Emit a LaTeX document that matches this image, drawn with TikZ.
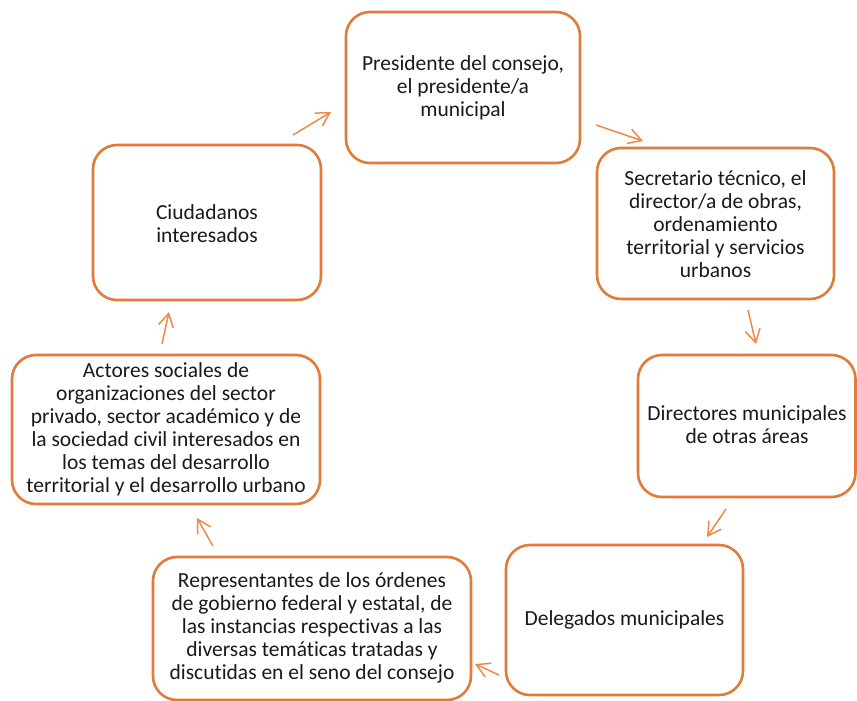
\documentclass[tikz,border=0pt]{standalone}
\usepackage{fontspec}
\setmainfont{Carlito}[Ligatures=NoCommon]
\usetikzlibrary{arrows.meta}
\definecolor{boxorange}{HTML}{E07B39}
\definecolor{arroworange}{HTML}{EE8A45}
\definecolor{txt}{HTML}{1A1A1A}
\begin{document}
\begin{tikzpicture}[x=1pt,y=-1pt,
  box/.style={draw=boxorange, line width=2.6pt, rounded corners=24pt, fill=white},
  lbl/.style={align=center, text=txt, font=\fontsize{21.5}{23}\selectfont, inner sep=0pt},
  flow/.style={draw=arroworange, line width=1.5pt, -{Straight Barb[length=13pt,width=15pt,line width=1.5pt]}}]
\useasboundingbox (0,0) rectangle (857,701);
% boxes
\draw[box] (346,12) rectangle (580,163);
\node[lbl] (b1) at (463,87.5) {Presidente del consejo,\\el presidente/a\\municipal};
\draw[box] (597,148) rectangle (834,299);
\node[lbl] (b2) at (715.5,224) {Secretario técnico, el\\director/a de obras,\\ordenamiento\\territorial y servicios\\urbanos};
\draw[box] (638,355) rectangle (855.5,497);
\node[lbl] (b3) at (747,425) {Directores municipales\\de otras áreas};
\draw[box] (506,545) rectangle (743,695);
\node[lbl] (b4) at (624.5,620) {Delegados municipales};
\draw[box] (153,557) rectangle (471,700);
\node[lbl] (b5) at (312,628) {Representantes de los órdenes\\de gobierno federal y estatal, de\\las instancias respectivas a las\\diversas temáticas tratadas y\\discutidas en el seno del consejo};
\draw[box] (12,355) rectangle (320,504);
\node[lbl] (b6) at (166,429) {Actores sociales de\\organizaciones del sector\\privado, sector académico y de\\la sociedad civil interesados en\\los temas del desarrollo\\territorial y el desarrollo urbano};
\draw[box] (93,145) rectangle (321,300);
\node[lbl] (b7) at (207,224) {Ciudadanos\\interesados};
% arrows
\coordinate (a1s) at (293,135); \coordinate (a1e) at (331,112);
\coordinate (a2s) at (596,125); \coordinate (a2e) at (643,141);
\coordinate (a3s) at (748,310); \coordinate (a3e) at (756,344);
\coordinate (a4s) at (726,509); \coordinate (a4e) at (707,537);
\coordinate (a5s) at (499,675); \coordinate (a5e) at (475,664);
\coordinate (a6s) at (213,546); \coordinate (a6e) at (197,518);
\coordinate (a7s) at (162,344); \coordinate (a7e) at (169,312);
\draw[flow] (a1s) -- (a1e);
\draw[flow] (a2s) -- (a2e);
\draw[flow] (a3s) -- (a3e);
\draw[flow] (a4s) -- (a4e);
\draw[flow] (a5s) -- (a5e);
\draw[flow] (a6s) -- (a6e);
\draw[flow] (a7s) -- (a7e);
\end{tikzpicture}
\end{document}
